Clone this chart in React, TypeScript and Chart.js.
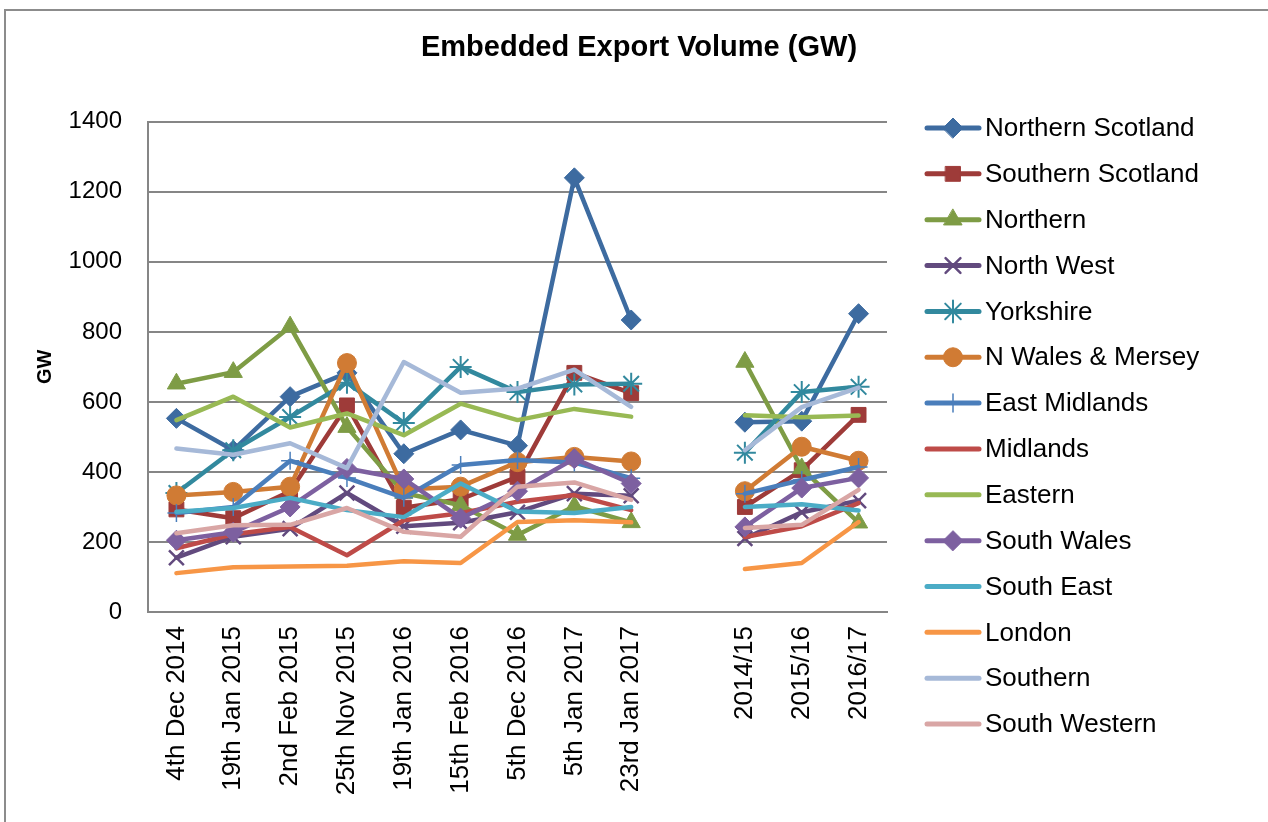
import React, { useEffect, useRef } from 'react';
import { Chart, registerables } from 'chart.js';

Chart.register(...registerables);

const categories = [
  '4th Dec 2014', '19th Jan 2015', '2nd Feb 2015', '25th Nov 2015', '19th Jan 2016',
  '15th Feb 2016', '5th Dec 2016', '5th Jan 2017', '23rd Jan 2017', '', '2014/15', '2015/16', '2016/17',
];

const seriesNames = [
  'Northern Scotland', 'Southern Scotland', 'Northern', 'North West', 'Yorkshire',
  'N Wales & Mersey', 'East Midlands', 'Midlands', 'Eastern', 'South Wales',
  'South East', 'London', 'Southern', 'South Western',
];

const northernScotland = [553, 462, 615, 683, 452, 520, 475, 1240, 834, null, 542, 545, 852];
const southernScotland = [293, 268, 345, 590, 298, 322, 386, 683, 625, null, 300, 405, 563];
const northern = [652, 685, 815, 528, 340, 305, 220, 302, 256, null, 714, 410, 255];
const northWest = [155, 215, 238, 340, 245, 255, 285, 338, 332, null, 210, 285, 318];
const yorkshire = [340, 462, 557, 655, 540, 700, 628, 650, 652, null, 455, 628, 643];
const nWalesMersey = [333, 343, 358, 711, 350, 358, 428, 443, 430, null, 345, 472, 432];
const eastMidlands = [283, 300, 432, 383, 326, 420, 434, 427, 382, null, 338, 377, 414];
const midlands = [182, 222, 243, 162, 262, 282, 315, 334, 291, null, 214, 245, 311];
const eastern = [548, 615, 527, 567, 505, 595, 548, 580, 558, null, 562, 556, 561];
const southWales = [205, 228, 300, 410, 380, 268, 345, 438, 367, null, 243, 354, 383];
const southEast = [286, 297, 326, 291, 271, 367, 287, 283, 300, null, 300, 308, 290];
const london = [111, 128, 130, 132, 145, 140, 257, 262, 256, null, 123, 140, 257];
const southern = [467, 449, 482, 411, 714, 626, 638, 692, 586, null, 462, 585, 641];
const southWestern = [225, 248, 249, 297, 229, 215, 358, 370, 320, null, 240, 249, 349];

const seriesValues = [
  northernScotland, southernScotland, northern, northWest, yorkshire, nWalesMersey,
  eastMidlands, midlands, eastern, southWales, southEast, london, southern, southWestern,
];

const seriesColors = [
  '#3d6ba0', '#9e3b39', '#7e9c45', '#624a7e', '#32899e', '#d07b34', '#4a7ebb',
  '#be4b48', '#98b954', '#7d60a0', '#4bacc6', '#f79646', '#a6b9d8', '#d9a6a5',
];

const seriesMarkers = [
  'rectRot', 'rect', 'triangle', 'crossRot', 'star', 'circle', 'cross',
  'none', 'none', 'rectRot', 'none', 'none', 'none', 'none',
];
const markerRadius = [10, 10.5, 10.5, 10.5, 11, 9.5, 9, 0, 0, 10, 0, 0, 0, 0];
const markerBorder = [1, 1, 1, 2.5, 2, 1, 1.5, 0, 0, 1, 0, 0, 0, 0];

const FONT = '"Liberation Sans", Arial, Helvetica, sans-serif';

function drawMarker(ctx: CanvasRenderingContext2D, style: string, x: number, y: number, r: number, color: string, bw: number) {
  if (style === 'none') return;
  ctx.save();
  ctx.fillStyle = color;
  ctx.strokeStyle = color;
  ctx.lineWidth = bw;
  ctx.beginPath();
  const q = Math.SQRT1_2 * r;
  switch (style) {
    case 'circle':
      ctx.arc(x, y, r, 0, Math.PI * 2);
      ctx.closePath();
      ctx.fill();
      ctx.stroke();
      break;
    case 'rect':
      ctx.rect(x - q, y - q, 2 * q, 2 * q);
      ctx.fill();
      ctx.stroke();
      break;
    case 'rectRot':
      ctx.moveTo(x - r, y);
      ctx.lineTo(x, y - r);
      ctx.lineTo(x + r, y);
      ctx.lineTo(x, y + r);
      ctx.closePath();
      ctx.fill();
      ctx.stroke();
      break;
    case 'triangle': {
      let a = 0;
      ctx.moveTo(x + Math.sin(a) * r, y - Math.cos(a) * r);
      a += (2 * Math.PI) / 3;
      ctx.lineTo(x + Math.sin(a) * r, y - Math.cos(a) * r);
      a += (2 * Math.PI) / 3;
      ctx.lineTo(x + Math.sin(a) * r, y - Math.cos(a) * r);
      ctx.closePath();
      ctx.fill();
      ctx.stroke();
      break;
    }
    case 'cross':
      ctx.moveTo(x, y - r);
      ctx.lineTo(x, y + r);
      ctx.moveTo(x - r, y);
      ctx.lineTo(x + r, y);
      ctx.stroke();
      break;
    case 'crossRot':
      ctx.moveTo(x - q, y - q);
      ctx.lineTo(x + q, y + q);
      ctx.moveTo(x - q, y + q);
      ctx.lineTo(x + q, y - q);
      ctx.stroke();
      break;
    case 'star':
      ctx.moveTo(x, y - r);
      ctx.lineTo(x, y + r);
      ctx.moveTo(x - r, y);
      ctx.lineTo(x + r, y);
      ctx.moveTo(x - q, y - q);
      ctx.lineTo(x + q, y + q);
      ctx.moveTo(x - q, y + q);
      ctx.lineTo(x + q, y - q);
      ctx.stroke();
      break;
  }
  ctx.restore();
}

const sideLegend = {
  id: 'sideLegend',
  afterDraw(chart: any) {
    const ctx: CanvasRenderingContext2D = chart.ctx;
    ctx.save();
    chart.data.datasets.forEach((ds: any, i: number) => {
      const y = 128 + i * 45.85;
      ctx.strokeStyle = ds.borderColor;
      ctx.lineWidth = 5;
      ctx.lineCap = 'round';
      ctx.beginPath();
      ctx.moveTo(927, y);
      ctx.lineTo(979, y);
      ctx.stroke();
      drawMarker(ctx, seriesMarkers[i], 953, y, markerRadius[i], ds.borderColor, markerBorder[i]);
      ctx.fillStyle = '#000';
      ctx.font = `26px ${FONT}`;
      ctx.textAlign = 'left';
      ctx.textBaseline = 'middle';
      ctx.fillText(ds.label, 985, y + 1);
    });
    ctx.restore();
  },
};

export default function App() {
  const canvasRef = useRef<HTMLCanvasElement>(null);

  useEffect(() => {
    const canvas = canvasRef.current;
    if (!canvas) return;
    const datasets = seriesNames.map((name, i) => ({
      label: name,
      data: seriesValues[i],
      borderColor: seriesColors[i],
      backgroundColor: seriesColors[i],
      borderWidth: 4.5,
      borderCapStyle: 'round' as const,
      borderJoinStyle: 'round' as const,
      pointStyle: seriesMarkers[i] === 'none' ? 'circle' : seriesMarkers[i],
      pointRadius: markerRadius[i],
      pointHoverRadius: markerRadius[i],
      pointBackgroundColor: seriesColors[i],
      pointBorderColor: seriesColors[i],
      pointBorderWidth: markerBorder[i],
      tension: 0,
      fill: false,
      spanGaps: false,
      order: seriesNames.length - i,
    }));

    const chart = new Chart(canvas, {
      type: 'line',
      data: { labels: categories, datasets },
      plugins: [sideLegend],
      options: {
        animation: false,
        responsive: false,
        maintainAspectRatio: false,
        devicePixelRatio: 1,
        layout: { padding: { left: 10, right: 0, top: 0, bottom: 0 } },
        plugins: {
          legend: { display: false },
          tooltip: { enabled: false },
          title: {
            display: true,
            text: 'Embedded Export Volume (GW)',
            color: '#000',
            font: { family: FONT, size: 29, weight: 'bold' },
            padding: { top: 31, bottom: 56 },
          },
        },
        scales: {
          x: {
            offset: true,
            grid: { display: false, drawTicks: false, offset: true },
            border: { display: true, color: '#868686', width: 2 },
            ticks: {
              autoSkip: false,
              maxRotation: 90,
              minRotation: 90,
              padding: 14,
              color: '#000',
              font: { family: FONT, size: 26 },
            },
            afterFit: (s: any) => { s.height = 210; },
          },
          y: {
            min: 0,
            max: 1400,
            ticks: {
              stepSize: 200,
              padding: 26,
              color: '#000',
              font: { family: FONT, size: 24 },
              callback: (v: any) => String(v),
            },
            grid: { color: '#868686', lineWidth: 2, drawTicks: false },
            border: { display: true, color: '#868686', width: 2 },
            title: {
              display: true,
              text: 'GW',
              color: '#000',
              font: { family: FONT, size: 20, weight: 'bold' },
              padding: { top: 23, bottom: 0 },
            },
            afterFit: (s: any) => { s.width = 138; },
          },
          y2: {
            position: 'right',
            display: true,
            grid: { display: false, drawTicks: false },
            border: { display: false },
            ticks: { display: false },
            afterFit: (s: any) => { s.width = 381; },
          },
        },
      } as any,
    });
    return () => chart.destroy();
  }, []);

  return (
    <div style={{ position: 'fixed', left: 0, top: 0, width: 1268, height: 822, background: '#fff', overflow: 'hidden' }}>
      <div
        style={{
          position: 'absolute', left: 4, top: 9, width: 1300, height: 900,
          borderLeft: '2px solid #8c8c8c', borderTop: '2px solid #8c8c8c', pointerEvents: 'none',
        }}
      />
      <canvas ref={canvasRef} width={1268} height={822} style={{ position: 'absolute', left: 0, top: 0, display: 'block' }} />
    </div>
  );
}
